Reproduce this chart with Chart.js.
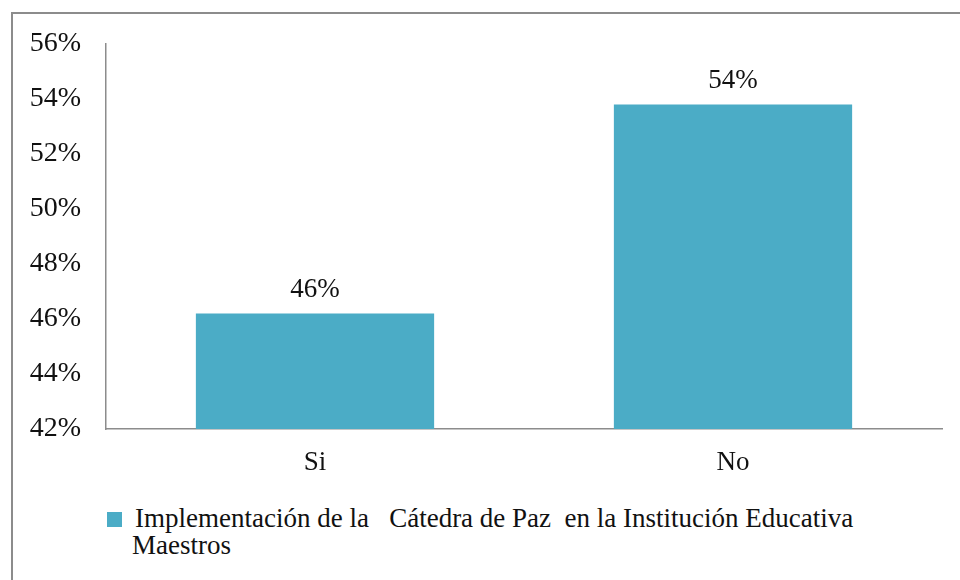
<!DOCTYPE html>
<html>
<head>
<meta charset="utf-8">
<script src="https://cdn.jsdelivr.net/npm/chart.js@4"></script>
<style>
body{margin:0;width:960px;height:580px;overflow:hidden;background:#fff;position:relative;font-family:"Liberation Serif","Times New Roman","DejaVu Serif",serif}
#frame{position:absolute;left:11px;top:12px;width:1000px;height:700px;border-left:2px solid #8c8c8c;border-top:2px solid #8c8c8c}
#wrap{position:absolute;left:0;top:0;width:960px;height:500px}
#legend{position:absolute;left:107px;top:505px;color:#111}
#legend .box{position:absolute;left:0;top:7px;width:15px;height:15px}
#legend .txt{position:absolute;left:25px;top:0;width:820px;font-size:27px;line-height:27px;white-space:pre}
#legend .first{padding-left:3px}
</style>
</head>
<body>
<div id="frame"></div>
<div id="wrap"><canvas id="barChart"></canvas></div>
<div id="legend"><span class="box"></span><div class="txt"><div class="first"></div><div class="second"></div></div></div>
<script>
// values
const categories = ["Si", "No"];
const seriesName = ["Implementación de la   Cátedra de Paz  en la Institución Educativa", "Maestros"];
const percentages = [46.2, 53.8];
const yTicks = [42, 44, 46, 48, 50, 52, 54, 56];
const barColor = "#4BACC6";

const serif = "'Liberation Serif', 'Times New Roman', 'DejaVu Serif', serif";

// labels on top of the bars
const valueLabels = {
  id: "valueLabels",
  afterDatasetsDraw(chart) {
    const ctx = chart.ctx;
    const meta = chart.getDatasetMeta(0);
    ctx.save();
    ctx.font = "27px " + serif;
    ctx.fillStyle = "#111";
    ctx.textAlign = "center";
    ctx.textBaseline = "alphabetic";
    meta.data.forEach((bar, i) => {
      ctx.fillText(Math.round(percentages[i]) + "%", bar.x, bar.y - 17);
    });
    ctx.restore();
  }
};

const chart = new Chart(document.getElementById("barChart"), {
  type: "bar",
  data: {
    labels: categories,
    datasets: [{
      label: seriesName.join(" "),
      data: percentages,
      backgroundColor: barColor,
      borderWidth: 0,
      barPercentage: 0.57,
      categoryPercentage: 1
    }]
  },
  options: {
    responsive: true,
    maintainAspectRatio: false,
    animation: false,
    layout: { padding: { top: 44, right: 18, left: 0, bottom: 0 } },
    plugins: {
      tooltip: { enabled: false },
      legend: { display: false }
    },
    scales: {
      x: {
        grid: { display: false, drawTicks: false },
        border: { display: true, color: "#8c8c8c", width: 1.5 },
        ticks: { color: "#111", padding: 18, font: { family: serif, size: 27 } },
        afterFit: s => { s.height = 71; }
      },
      y: {
        min: yTicks[0],
        max: yTicks[yTicks.length - 1],
        grid: { display: false, drawTicks: false },
        border: { display: true, color: "#8c8c8c", width: 1.5 },
        afterBuildTicks: s => { s.ticks = yTicks.map(v => ({ value: v })); },
        ticks: {
          color: "#111",
          padding: 25,
          font: { family: serif, size: 28 },
          callback: v => v + "%"
        },
        afterFit: s => { s.width = 106; }
      }
    }
  },
  plugins: [valueLabels]
});

// legend below the plot, same series name and colour as the dataset
const legendEl = document.getElementById("legend");
legendEl.querySelector(".box").style.background = chart.data.datasets[0].backgroundColor;
legendEl.querySelector(".first").textContent = seriesName[0];
legendEl.querySelector(".second").textContent = seriesName[1];
</script>
</body>
</html>
